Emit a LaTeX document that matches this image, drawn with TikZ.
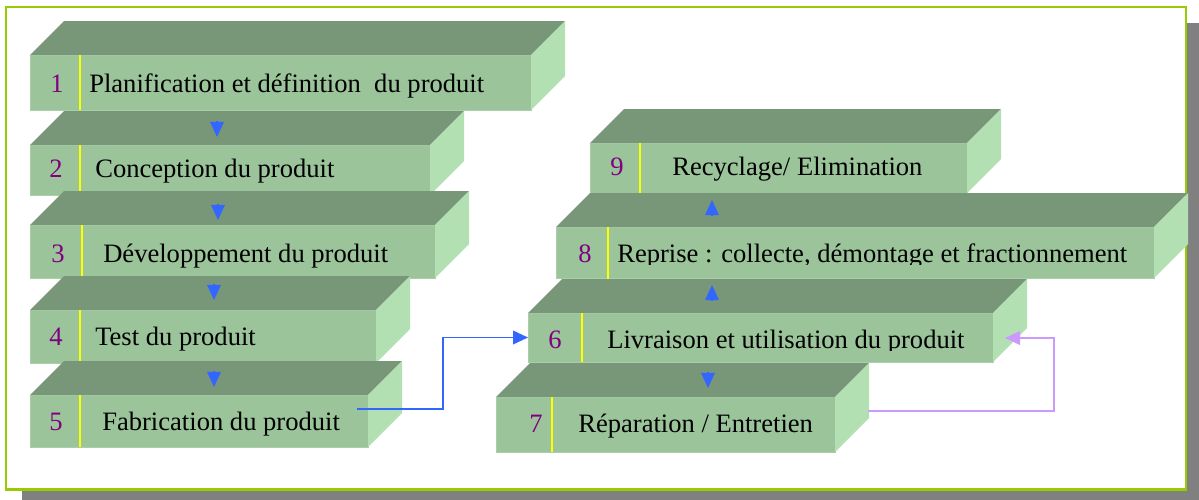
\documentclass[tikz,border=0pt]{standalone}
\usepackage{fontspec}
\setmainfont{Liberation Serif}
\usetikzlibrary{arrows.meta}

\definecolor{frontc}{RGB}{155,196,155}
\definecolor{topc}{RGB}{120,151,121}
\definecolor{sidec}{RGB}{178,224,178}
\definecolor{edgec}{RGB}{170,205,170}
\definecolor{framec}{RGB}{153,204,0}
\definecolor{shadowc}{RGB}{128,128,128}
\definecolor{numc}{RGB}{128,0,128}
\definecolor{flowc}{RGB}{51,102,255}
\definecolor{loopc}{RGB}{204,153,255}
\definecolor{dividerc}{RGB}{255,255,0}

% one 3-D slab: front face as a named node, top and right faces around it
% #1 name, #2 left, #3 top, #4 width, #5 height (all in px)
\newcommand\slab[5]{%
  \node[front, minimum width=#4*0.025cm, minimum height=#5*0.025cm] (#1) at (#2,#3) {};
  \fill[topc] (#1.north west) -- ++(34,-34) -- ++(#4,0) -- (#1.north east) -- cycle;
  \fill[sidec] (#1.north east) -- ++(34,-34) -- ++(0,#5) -- (#1.south east) -- cycle;
}

\begin{document}
\begin{tikzpicture}[x=0.025cm, y=-0.025cm,
  front/.style={draw=edgec, line width=0.4pt, fill=frontc, inner sep=0pt, outer sep=0pt, anchor=north west},
  num/.style={text=numc, anchor=base, inner sep=0pt, font=\fontsize{18.9}{22}\selectfont},
  lbl/.style={text=black, anchor=base west, inner sep=0pt, font=\fontsize{18.9}{22}\selectfont},
  divider/.style={draw=dividerc, line width=1.4pt},
  tip/.style={draw=flowc, line width=0.8pt, -{Triangle[length=0.375cm, width=0.34cm]}},
  link/.style={draw=flowc, line width=1.3pt, -{Triangle[length=0.375cm, width=0.34cm]}},
  back/.style={draw=loopc, line width=1.3pt, -{Triangle[length=0.375cm, width=0.34cm]}},
]
\useasboundingbox (0,0) rectangle (1199,500);

% drop shadow and frame
\fill[shadowc] (22,23) rectangle (1199,500);
\draw[framec, line width=1.8pt, fill=white] (6,7) rectangle (1186,489.5);

% left column
\slab{f1}{30}{55}{501}{55}
\node[num] (n1) at (57,92) {1};
\draw[divider] (80,55) -- (80,110);
\node[lbl] (l1) at (89,92) {Planification et définition\ \ du produit};

\slab{f2}{30}{145}{400}{50}
\node[num] (n2) at (56,177) {2};
\draw[divider] (80,145) -- (80,195);
\node[lbl] (l2) at (95,177) {Conception du produit};

\slab{f3}{30}{225}{405}{53}
\node[num] (n3) at (58,262) {3};
\draw[divider] (82,225) -- (82,278);
\node[lbl] (l3) at (103,262) {Développement du produit};

\slab{f4}{30}{310}{346}{53}
\node[num] (n4) at (56,345) {4};
\draw[divider] (80,310) -- (80,363);
\node[lbl] (l4) at (95,345) {Test du produit};

\slab{f5}{30}{395}{338}{52}
\node[num] (n5) at (56,430) {5};
\draw[divider] (80,395) -- (80,447);
\node[lbl] (l5) at (102,430) {Fabrication du produit};

% right column
\slab{f9}{590}{143}{377}{50}
\node[num] (n9) at (617,175) {9};
\draw[divider] (640,143) -- (640,193);
\node[lbl] (l9) at (672,175) {Recyclage/ Elimination};

\slab{f8}{556}{227}{598}{51}
\node[num] (n8) at (585,262) {8};
\draw[divider] (608,227) -- (608,282);
\begin{scope}
  \clip (556,227) rectangle (1154,264);
  \node[lbl] (l8) at (617,262) {Reprise : collecte, démontage et fractionnement};
\end{scope}

\slab{f6}{528}{313}{465}{49}
\node[num] (n6) at (555,348) {6};
\draw[divider] (582,313) -- (582,362);
\begin{scope}
  \clip (528,313) rectangle (993,350);
  \node[lbl] (l6) at (607,348) {Livraison et utilisation du produit};
\end{scope}

\slab{f7}{496}{397}{339}{55}
\node[num] (n7) at (536,432) {7};
\draw[divider] (552,397) -- (552,452);
\node[lbl] (l7) at (578,432) {Réparation / Entretien};

% step arrows on the top faces
\coordinate (s12) at (217,121); \coordinate (t12) at (217,137);
\coordinate (s23) at (218,204); \coordinate (t23) at (218,220);
\coordinate (s34) at (214,284); \coordinate (t34) at (214,300);
\coordinate (s45) at (214,371); \coordinate (t45) at (214,387);
\coordinate (s67) at (708,372); \coordinate (t67) at (708,388);
\coordinate (s68) at (712,301); \coordinate (t68) at (712,285);
\coordinate (s89) at (712,216); \coordinate (t89) at (712,200);
\draw[tip] (s12) -- (t12);
\draw[tip] (s23) -- (t23);
\draw[tip] (s34) -- (t34);
\draw[tip] (s45) -- (t45);
\draw[tip] (s67) -- (t67);
\draw[tip] (s68) -- (t68);
\draw[tip] (s89) -- (t89);

% manufacturing leads to delivery
\coordinate (c5) at (357,409);
\draw[link] (c5) -- ++(86,0) |- (f6.west);

% repair loops back to use
\coordinate (c7) at (868,411);
\coordinate (e6) at (1005,338);
\draw[back] (c7) -- ++(186,0) |- (e6);
\end{tikzpicture}
\end{document}
